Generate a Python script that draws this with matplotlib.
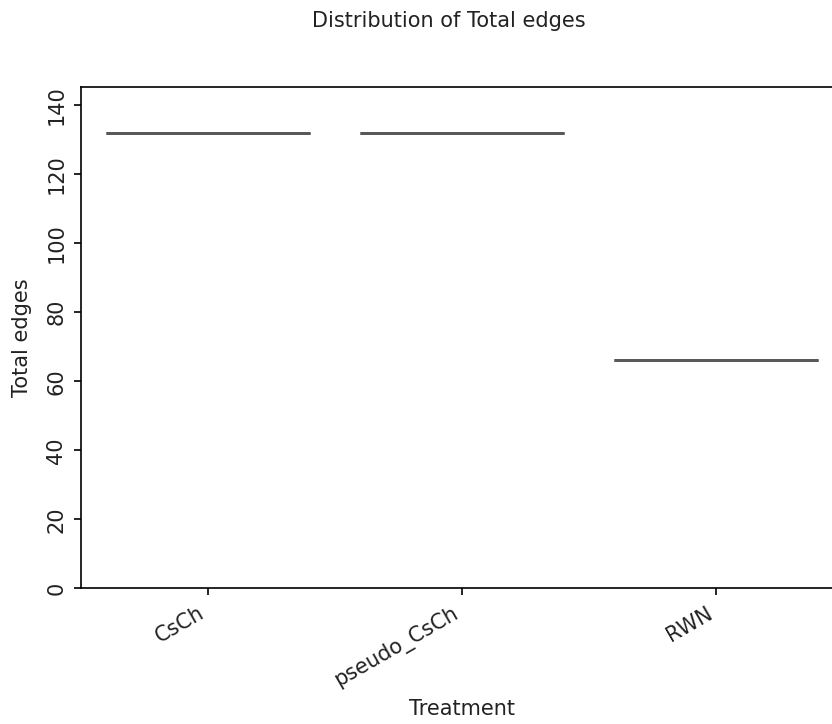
import pandas as pd
import seaborn as sns
import matplotlib
matplotlib.use("Agg")
import matplotlib.pyplot as plt

# values per treatment (all observations identical within a group)
treatments = ["CsCh", "pseudo_CsCh", "RWN"]
csch_edges = [132, 132, 132]
pseudo_csch_edges = [132, 132, 132]
rwn_edges = [66, 66, 66]

df = pd.DataFrame({
    "Treatment": ["CsCh"] * len(csch_edges)
    + ["pseudo_CsCh"] * len(pseudo_csch_edges)
    + ["RWN"] * len(rwn_edges),
    "Total edges": csch_edges + pseudo_csch_edges + rwn_edges,
})

plt.rcParams["text.color"] = "#222222"
plt.rcParams["xtick.labelcolor"] = "#222222"
plt.rcParams["ytick.labelcolor"] = "#222222"
plt.rcParams["axes.labelcolor"] = "#222222"

W, H, DPI = 832, 724, 150
fig = plt.figure(figsize=(W / DPI, H / DPI), dpi=DPI)
ax = fig.add_axes([81 / W, 1 - 588.4 / H, 762 / W, (588.4 - 87) / H])

sns.boxplot(data=df, x="Treatment", y="Total edges", order=treatments, ax=ax,
            linecolor="0.35", linewidth=1.4)
ax.set_ylim(0, max(df["Total edges"]) * 1.1)
ax.set_xlim(-0.5, 2.5)
plt.setp(ax.get_xticklabels(), rotation=30, ha="right")
ax.tick_params(axis="y", labelrotation=90)
plt.setp(ax.get_yticklabels(), va="center")
ax.yaxis.set_label_coords(-0.064, 0.5)

fig.suptitle("Distribution of Total edges", x=449 / W, y=1 - 11 / H, va="top",
             fontsize=10)

fig.savefig("out.png", dpi=DPI)
